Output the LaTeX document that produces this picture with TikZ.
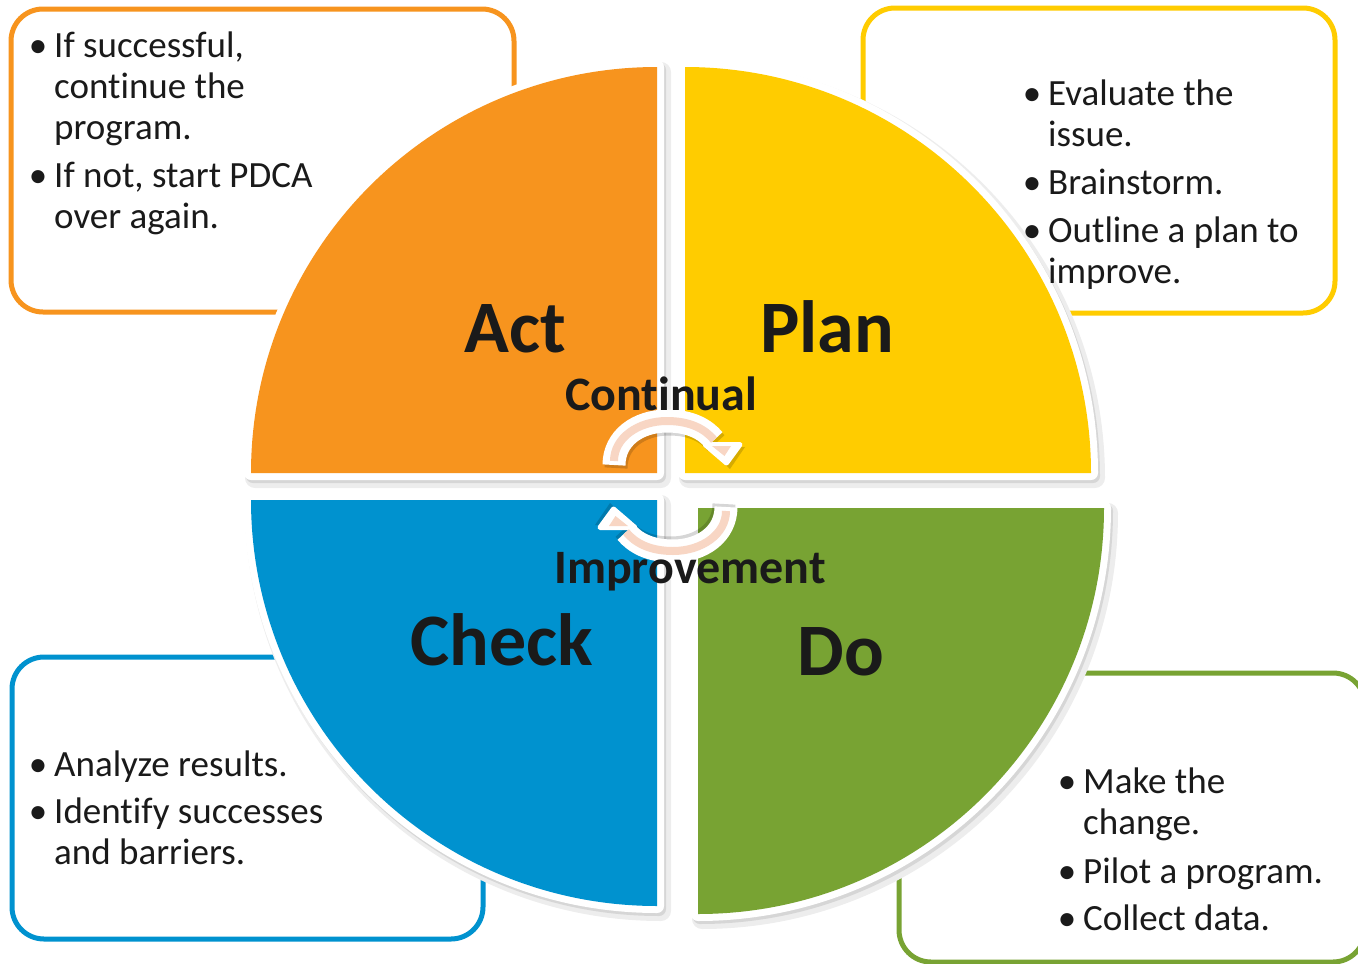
\documentclass[tikz,border=0pt]{standalone}
\usepackage{fontspec}
\setmainfont{Carlito}[Ligatures=NoCommon]
\definecolor{actc}{RGB}{247,148,30}
\definecolor{planc}{RGB}{255,204,0}
\definecolor{checkc}{RGB}{0,146,207}
\definecolor{doc}{RGB}{120,163,51}
\definecolor{peach}{RGB}{248,214,196}
\definecolor{ink}{RGB}{26,26,26}
\newcommand\pbul{\makebox[16pt]{\textbullet}}
\newcommand\quadshape[3]{(#1,#2) -- ++(#3:406) arc[start angle=#3, delta angle=90, radius=406] -- cycle}
\begin{document}
\begin{tikzpicture}[x=1pt,y=-1pt,
  box/.style={draw, line width=5pt, rounded corners=32pt, fill=white, inner sep=0pt},
  shadA/.style={fill=black!7, draw=black!7, line width=20pt, line join=round},
  shadB/.style={fill=black!16, draw=black!16, line width=14pt, line join=round},
  rim/.style={fill=white, draw=white, line width=14pt, line join=round},
  lst/.style={inner sep=0pt, anchor=north west, text=ink, font=\fontsize{37}{41}\selectfont},
  big/.style={text=ink, font=\bfseries\fontsize{74}{80}\selectfont, anchor=base, inner sep=0pt},
  mid/.style={text=ink, font=\bfseries\fontsize{48}{52}\selectfont, anchor=base, inner sep=0pt},
  shaftshadow/.style={black, opacity=.16, line width=23pt},
  shaft/.style={white, line width=23pt},
  stripe/.style={peach, line width=8pt},
]
\useasboundingbox (0,0) rectangle (1358,964);
\clip (0,0) rectangle (1358,964);

% boxes
\node[box, draw=actc,   minimum width=503pt, minimum height=303pt] (actbox)   at (262.5,160.5) {};
\node[box, draw=planc,  minimum width=472pt, minimum height=305pt] (planbox)  at (1099,160.5) {};
\node[box, draw=checkc, minimum width=471pt, minimum height=282pt] (checkbox) at (247.5,798) {};
\node[box, draw=doc,    minimum width=466pt, minimum height=289pt] (dobox)    at (1132,817.5) {};

% quadrant shadows
\foreach \cx/\cy/\a in {657/473/180, 685/473/270, 657/500/90, 698/508/0}{
  \path[shadA] \quadshape{\cx+4}{\cy+5}{\a};
}
\foreach \cx/\cy/\a in {657/473/180, 685/473/270, 657/500/90, 698/508/0}{
  \path[shadB] \quadshape{\cx+2}{\cy+3}{\a};
}
% white rims
\foreach \cx/\cy/\a in {657/473/180, 685/473/270, 657/500/90, 698/508/0}{
  \path[rim] \quadshape{\cx}{\cy}{\a};
}
% fills
\fill[actc]   \quadshape{657}{473}{180};
\fill[planc]  \quadshape{685}{473}{270};
\fill[checkc] \quadshape{657}{500}{90};
\fill[doc]    \quadshape{698}{508}{0};

% lists
\node[lst] (actlist) at (30,28.3) {\begin{tabular}{@{}l@{\hspace{8pt}}l@{}}
\pbul & If successful,\\ & continue the\\ & program.\\[7pt]
\pbul & If not, start PDCA\\ & over again.\end{tabular}};
\node[lst] (planlist) at (1024,76.3) {\begin{tabular}{@{}l@{\hspace{8pt}}l@{}}
\pbul & Evaluate the\\ & issue.\\[7pt]
\pbul & Brainstorm.\\[7pt]
\pbul & Outline a plan to\\ & improve.\end{tabular}};
\node[lst] (checklist) at (30,747.3) {\begin{tabular}{@{}l@{\hspace{8pt}}l@{}}
\pbul & Analyze results.\\[6pt]
\pbul & Identify successes\\ & and barriers.\end{tabular}};
\node[lst] (dolist) at (1059,764.3) {\begin{tabular}{@{}l@{\hspace{8pt}}l@{}}
\pbul & Make the\\ & change.\\[8pt]
\pbul & Pilot a program.\\[6pt]
\pbul & Collect data.\end{tabular}};

% circular arrows
\foreach \rot in {0,180}{
\begin{scope}[rotate around={\rot:(670,486)}]
  \draw[shaftshadow] (616,468) .. controls (616,441) and (640,424) .. (669,424) .. controls (692,424) and (707,432) .. (716,443);
  \fill[black, opacity=.16] (706,447) -- (745,447) -- (730,469) -- cycle;
  \draw[shaft] (614,465) .. controls (614,438) and (638,421) .. (667,421) .. controls (690,421) and (705,429) .. (714,440);
  \filldraw[white, line width=5pt, line join=round] (705,444.5) -- (740,444.5) -- (726.5,463) -- cycle;
  \draw[stripe] (614,461) .. controls (614,438) and (638,421) .. (667,421) .. controls (690,421) and (705,429) .. (714,440);
  \fill[peach] (712,446) -- (731,446) -- (724.5,456) -- cycle;
\end{scope}
}

% labels
\node[big] (act)   at (515,352) {Act};
\node[big] (plan)  at (827,352) {Plan};
\node[big] (check) at (502,665) {Check};
\node[big] (do)    at (841,675) {Do};
\node[mid] (cont)  at (661,410) {Continual};
\node[mid] (impr)  at (690,583) {Improvement};
\end{tikzpicture}
\end{document}
